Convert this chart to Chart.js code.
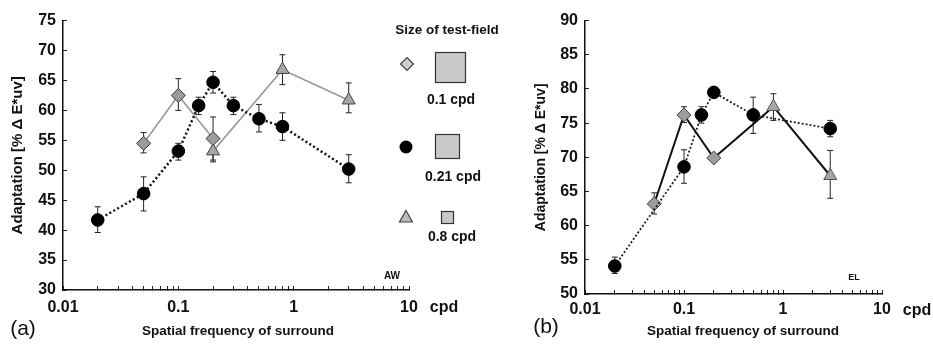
<!DOCTYPE html>
<html>
<head>
<meta charset="utf-8">
<script src="https://cdn.jsdelivr.net/npm/chart.js@4"></script>
<style>
body{margin:0;background:#fff;width:933px;height:348px;position:relative;overflow:hidden;}
canvas{position:absolute;top:0;}
#chartA{left:0;}
#chartB{left:510px;}
</style>
</head>
<body>
<canvas id="chartA" width="510" height="348"></canvas>
<canvas id="chartB" width="423" height="348"></canvas>
<script>
const font = '"Liberation Sans", Arial, Helvetica, sans-serif';

// x axis, log scale: labels only at decades
const xDecades = [0.01, 0.1, 1, 10];
const xTickLabels = ['0.01', '0.1', '1', '10'];
const xTitle = 'Spatial frequency of surround';
const yTitle = 'Adaptation [% Δ E*uv]';

// panel (a), observer AW
const aCircleX = [0.02, 0.05, 0.1, 0.15, 0.2, 0.3, 0.5, 0.8, 3];
const aCircleY = [41.7, 46.1, 53.2, 60.8, 64.7, 60.8, 58.6, 57.3, 50.2];
const aCircleHi = [43.9, 48.9, 54.5, 62.2, 66.5, 62.2, 61.0, 59.6, 52.6];
const aCircleLo = [39.6, 43.2, 51.7, 59.3, 62.9, 59.3, 56.4, 55.0, 47.9];

const aDiamondX = [0.05, 0.1, 0.2];
const aDiamondY = [54.5, 62.5, 55.3];
const aDiamondHi = [56.3, 65.3, 58.9];
const aDiamondLo = [52.9, 60.0, 51.7];

const aTriangleX = [0.2, 0.8, 3];
const aTriangleY = [53.2, 66.8, 61.7];
const aTriangleHi = [55.0, 69.3, 64.6];
const aTriangleLo = [51.4, 64.3, 59.6];

// panel (b), observer EL
const bCircleX = [0.02, 0.1, 0.15, 0.2, 0.5, 3];
const bCircleY = [54.1, 68.6, 76.2, 79.5, 76.2, 74.2];
const bCircleHi = [55.4, 71.1, 77.4, null, 78.8, 75.4];
const bCircleLo = [53.0, 66.2, 75.0, null, 73.5, 73.0];

const bDiamondX = [0.05, 0.1, 0.2];
const bDiamondY = [63.2, 76.2, 69.9];
const bDiamondHi = [64.8, 77.4, null];
const bDiamondLo = [61.7, 75.1, null];

const bTriangleX = [0.2, 0.8, 3];
const bTriangleY = [69.9, 77.4, 67.3];
const bTriangleHi = [null, 79.3, 71.0];
const bTriangleLo = [null, 75.4, 64.0];

// legend
const legendTitle = 'Size of test-field';
const legendLabels = ['0.1 cpd', '0.21 cpd', '0.8 cpd'];

function points(xs, ys){
    return xs.map((x, i) => ({x: x, y: ys[i]}));
}

function minorTicks(){
    let t = [];
    for(let d = 0; d < xDecades.length - 1; d++){
        for(let m = 1; m < 10; m++){
            t.push(Number((xDecades[d] * m).toPrecision(3)));
        }
    }
    t.push(xDecades[xDecades.length - 1]);
    return t.map(v => ({value: v}));
}

function decadeLabel(v){
    let i = xDecades.findIndex(d => Math.abs(d - v) < d * 1e-6);
    return i >= 0 ? xTickLabels[i] : '';
}

const errorBars = {
    id: 'errorBars',
    beforeDatasetsDraw(chart){
        const ctx = chart.ctx;
        const xs = chart.scales.x, ys = chart.scales.y;
        ctx.save();
        ctx.strokeStyle = '#222';
        ctx.lineWidth = 1;
        chart.data.datasets.forEach(ds => {
            if(!ds.errHi) return;
            ds.data.forEach((p, i) => {
                if(ds.errHi[i] == null) return;
                let x = xs.getPixelForValue(p.x);
                let y1 = ys.getPixelForValue(ds.errHi[i]);
                let y2 = ys.getPixelForValue(ds.errLo[i]);
                ctx.beginPath();
                ctx.moveTo(x, y1); ctx.lineTo(x, y2);
                ctx.moveTo(x - 3, y1); ctx.lineTo(x + 3, y1);
                ctx.moveTo(x - 3, y2); ctx.lineTo(x + 3, y2);
                ctx.stroke();
            });
        });
        ctx.restore();
    }
};

const extraText = {
    id: 'extraText',
    afterDraw(chart, args, opts){
        const ctx = chart.ctx;
        ctx.save();
        ctx.fillStyle = '#111';
        ctx.textAlign = 'center';
        ctx.textBaseline = 'middle';
        (opts.items || []).forEach(t => {
            ctx.font = t.f + ' ' + font;
            ctx.fillText(t.text, t.x, t.y);
        });
        ctx.restore();
    }
};

const sizeLegend = {
    id: 'sizeLegend',
    afterDraw(chart){
        const ctx = chart.ctx;
        ctx.save();
        ctx.fillStyle = '#111';
        ctx.textAlign = 'center';
        ctx.textBaseline = 'middle';
        ctx.font = 'bold 13.5px ' + font;
        ctx.fillText(legendTitle, 447, 30);

        // diamond
        ctx.beginPath();
        ctx.moveTo(407, 57.5); ctx.lineTo(413.5, 64); ctx.lineTo(407, 70.5); ctx.lineTo(400.5, 64);
        ctx.closePath();
        ctx.fillStyle = '#cfcfcf'; ctx.fill();
        ctx.strokeStyle = '#444'; ctx.lineWidth = 1.2; ctx.stroke();
        // circle
        ctx.beginPath();
        ctx.arc(406, 147, 6.5, 0, Math.PI * 2);
        ctx.fillStyle = '#000'; ctx.fill();
        // triangle
        ctx.beginPath();
        ctx.moveTo(406, 210.5); ctx.lineTo(412.5, 222); ctx.lineTo(399.5, 222);
        ctx.closePath();
        ctx.fillStyle = '#bdbdbd'; ctx.fill();
        ctx.strokeStyle = '#444'; ctx.stroke();

        // test-field squares
        ctx.fillStyle = '#c9c9c9';
        ctx.strokeStyle = '#333';
        [[435, 52, 30], [435, 134, 24], [441, 211, 12]].forEach(s => {
            ctx.fillRect(s[0], s[1], s[2], s[2]);
            ctx.strokeRect(s[0] + 0.5, s[1] + 0.5, s[2], s[2]);
        });

        ctx.fillStyle = '#111';
        ctx.font = 'bold 14px ' + font;
        ctx.fillText(legendLabels[0], 451, 100);
        ctx.fillText(legendLabels[1], 453, 177);
        ctx.fillText(legendLabels[2], 452, 237);
        ctx.restore();
    }
};

function makeChart(id, c){
    const tickFont = {family: font, size: 16, weight: 'bold'};
    return new Chart(document.getElementById(id), {
        type: 'scatter',
        data: {datasets: c.datasets},
        options: {
            responsive: false,
            animation: false,
            layout: {padding: {left: 0, top: c.top, right: c.right, bottom: 0}},
            plugins: {
                legend: {display: false},
                tooltip: {enabled: false},
                extraText: {items: c.texts}
            },
            scales: {
                x: {
                    type: 'logarithmic',
                    min: 0.01,
                    max: 10,
                    afterFit: s => { s.height = c.xHeight; },
                    afterBuildTicks: s => { s.ticks = minorTicks(); },
                    grid: {drawOnChartArea: false, drawTicks: true, tickLength: -4, color: '#222', lineWidth: 1},
                    border: {color: '#111', width: 1.5},
                    ticks: {autoSkip: false, maxRotation: 0, padding: c.xPad, color: '#111', font: tickFont,
                        callback: v => decadeLabel(v)}
                },
                y: {
                    min: c.yMin,
                    max: c.yMax,
                    afterFit: s => { s.width = c.yWidth; },
                    grid: {drawOnChartArea: false, drawTicks: true, tickLength: -4, color: '#222', lineWidth: 1},
                    border: {color: '#111', width: 1.5},
                    ticks: {stepSize: 5, padding: 11, color: '#111', font: tickFont},
                    title: {display: true, text: yTitle, color: '#111',
                        font: {family: font, size: c.yTitleSize, weight: 'bold'}, padding: {top: c.yTitlePad, bottom: 0}}
                }
            }
        },
        plugins: c.plugins
    });
}

makeChart('chartA', {
    top: 12, right: 101, xHeight: 58, yWidth: 63, xPad: 12,
    yMin: 30, yMax: 75, yTitleSize: 15, yTitlePad: 9,
    texts: [
        {text: 'cpd', x: 444, y: 308, f: 'bold 16px'},
        {text: '(a)', x: 23, y: 329, f: '21px'},
        {text: 'AW', x: 392, y: 276, f: 'bold 10px'},
        {text: xTitle, x: 238, y: 331, f: 'bold 13.5px'}
    ],
    plugins: [errorBars, extraText, sizeLegend],
    datasets: [
        {data: points(aCircleX, aCircleY), errHi: aCircleHi, errLo: aCircleLo, showLine: true,
            borderColor: '#111', borderWidth: 2.5, borderDash: [2, 2.5],
            pointStyle: 'circle', pointRadius: 6.3, pointBackgroundColor: '#000', pointBorderColor: '#000', pointBorderWidth: 1},
        {data: points(aDiamondX, aDiamondY), errHi: aDiamondHi, errLo: aDiamondLo, showLine: true,
            borderColor: '#9a9a9a', borderWidth: 1.6,
            pointStyle: 'rectRot', pointRadius: 7, pointBackgroundColor: '#9c9c9c', pointBorderColor: '#333', pointBorderWidth: 1},
        {data: points(aTriangleX, aTriangleY), errHi: aTriangleHi, errLo: aTriangleLo, showLine: true,
            borderColor: '#9a9a9a', borderWidth: 1.6,
            pointStyle: 'triangle', pointRadius: 7.5, pointBackgroundColor: '#a6a6a6', pointBorderColor: '#444', pointBorderWidth: 1}
    ]
});

makeChart('chartB', {
    top: 14, right: 51, xHeight: 54, yWidth: 75, xPad: 10,
    yMin: 50, yMax: 90, yTitleSize: 14, yTitlePad: 23,
    texts: [
        {text: 'cpd', x: 407, y: 311, f: 'bold 16px'},
        {text: '(b)', x: 36, y: 327, f: '21px'},
        {text: 'EL', x: 344, y: 278, f: 'bold 9px'},
        {text: xTitle, x: 233, y: 331, f: 'bold 13.5px'}
    ],
    plugins: [errorBars, extraText],
    datasets: [
        {data: points(bCircleX, bCircleY), errHi: bCircleHi, errLo: bCircleLo, showLine: true,
            borderColor: '#222', borderWidth: 1.8, borderDash: [2, 2],
            pointStyle: 'circle', pointRadius: 6.3, pointBackgroundColor: '#000', pointBorderColor: '#000', pointBorderWidth: 1},
        {data: points(bDiamondX, bDiamondY), errHi: bDiamondHi, errLo: bDiamondLo, showLine: true,
            borderColor: '#111', borderWidth: 2,
            pointStyle: 'rectRot', pointRadius: 7, pointBackgroundColor: '#9c9c9c', pointBorderColor: '#444', pointBorderWidth: 1},
        {data: points(bTriangleX, bTriangleY), errHi: bTriangleHi, errLo: bTriangleLo, showLine: true,
            borderColor: '#111', borderWidth: 2,
            pointStyle: 'triangle', pointRadius: [0, 7.5, 7.5], pointBackgroundColor: '#a6a6a6', pointBorderColor: '#555', pointBorderWidth: 1}
    ]
});
</script>
</body>
</html>
